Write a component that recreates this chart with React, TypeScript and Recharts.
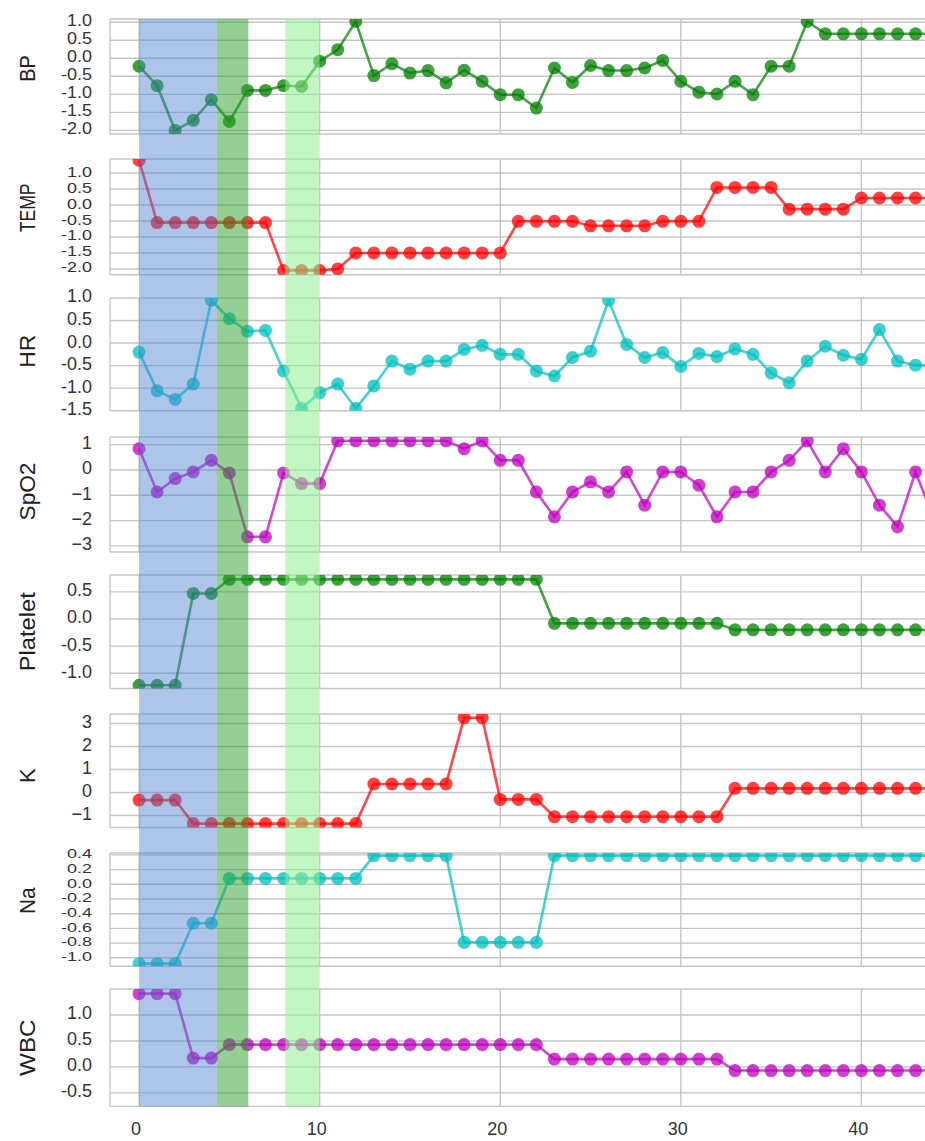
import React from "react";
import { LineChart, Line, XAxis, YAxis, CartesianGrid, ReferenceArea } from "recharts";

// time index (hours)
const T = [0, 1, 2, 3, 4, 5, 6, 7, 8, 9, 10, 11, 12, 13, 14, 15, 16, 17, 18, 19, 20, 21, 22, 23, 24, 25, 26, 27, 28, 29, 30, 31, 32, 33, 34, 35, 36, 37, 38, 39, 40, 41, 42, 43, 44];
const X_TICKS = [0, 10, 20, 30, 40];

// normalised vitals / labs
const BP = [-0.22, -0.76, -2.0, -1.72, -1.15, -1.75, -0.89, -0.89, -0.76, -0.78, -0.08, 0.24, 1.02, -0.48, -0.15, -0.41, -0.34, -0.68, -0.33, -0.64, -1.01, -1.01, -1.38, -0.27, -0.67, -0.2, -0.34, -0.34, -0.27, -0.06, -0.64, -0.94, -0.99, -0.64, -1.01, -0.22, -0.22, 1.02, 0.68, 0.68, 0.68, 0.68, 0.68, 0.68, 0.68];
const TEMP = [1.4, -0.55, -0.55, -0.55, -0.55, -0.55, -0.55, -0.55, -2.05, -2.05, -2.05, -2.0, -1.5, -1.5, -1.5, -1.5, -1.5, -1.5, -1.5, -1.5, -1.5, -0.51, -0.51, -0.51, -0.51, -0.65, -0.65, -0.65, -0.65, -0.51, -0.51, -0.51, 0.55, 0.55, 0.55, 0.55, -0.13, -0.13, -0.13, -0.13, 0.22, 0.22, 0.22, 0.22, 0.22];
const HR = [-0.2, -1.06, -1.25, -0.91, 0.95, 0.54, 0.26, 0.28, -0.62, -1.45, -1.1, -0.91, -1.45, -0.95, -0.4, -0.58, -0.4, -0.4, -0.14, -0.05, -0.25, -0.25, -0.62, -0.73, -0.32, -0.18, 0.95, -0.03, -0.32, -0.21, -0.52, -0.23, -0.3, -0.13, -0.25, -0.66, -0.88, -0.4, -0.07, -0.27, -0.36, 0.3, -0.4, -0.49, -0.5];
const SPO2 = [0.84, -0.87, -0.34, -0.08, 0.38, -0.12, -2.64, -2.64, -0.12, -0.54, -0.54, 1.15, 1.15, 1.15, 1.15, 1.15, 1.15, 1.15, 0.84, 1.15, 0.38, 0.38, -0.87, -1.85, -0.87, -0.47, -0.87, -0.08, -1.39, -0.08, -0.08, -0.6, -1.85, -0.87, -0.87, -0.08, 0.38, 1.15, -0.08, 0.84, -0.08, -1.39, -2.24, -0.08, -1.9];
const PLATELET = [-1.22, -1.22, -1.22, 0.47, 0.47, 0.73, 0.73, 0.73, 0.73, 0.73, 0.73, 0.73, 0.73, 0.73, 0.73, 0.73, 0.73, 0.73, 0.73, 0.73, 0.73, 0.73, 0.73, -0.08, -0.08, -0.08, -0.08, -0.08, -0.08, -0.08, -0.08, -0.08, -0.08, -0.2, -0.2, -0.2, -0.2, -0.2, -0.2, -0.2, -0.2, -0.2, -0.2, -0.2, -0.2];
const K = [-0.33, -0.33, -0.33, -1.35, -1.35, -1.35, -1.35, -1.35, -1.35, -1.35, -1.35, -1.35, -1.35, 0.37, 0.37, 0.37, 0.37, 0.37, 3.25, 3.25, -0.3, -0.3, -0.3, -1.05, -1.05, -1.05, -1.05, -1.05, -1.05, -1.05, -1.05, -1.05, -1.05, 0.18, 0.18, 0.18, 0.18, 0.18, 0.18, 0.18, 0.18, 0.18, 0.18, 0.18, 0.18];
const NA = [-1.08, -1.08, -1.08, -0.53, -0.53, 0.08, 0.08, 0.08, 0.08, 0.08, 0.08, 0.08, 0.08, 0.39, 0.39, 0.39, 0.39, 0.39, -0.79, -0.79, -0.79, -0.79, -0.79, 0.39, 0.39, 0.39, 0.39, 0.39, 0.39, 0.39, 0.39, 0.39, 0.39, 0.39, 0.39, 0.39, 0.39, 0.39, 0.39, 0.39, 0.39, 0.39, 0.39, 0.39, 0.39];
const WBC = [1.41, 1.41, 1.41, 0.17, 0.17, 0.43, 0.43, 0.43, 0.43, 0.43, 0.43, 0.43, 0.43, 0.43, 0.43, 0.43, 0.43, 0.43, 0.43, 0.43, 0.43, 0.43, 0.43, 0.15, 0.15, 0.15, 0.15, 0.15, 0.15, 0.15, 0.15, 0.15, 0.15, -0.07, -0.07, -0.07, -0.07, -0.07, -0.07, -0.07, -0.07, -0.07, -0.07, -0.07, -0.07];

// highlighted intervals
const SPANS = [
  { from: 0, to: 4.3, color: "#4c7fd0", opacity: 0.45 },
  { from: 4.3, to: 6.05, color: "#2ca02c", opacity: 0.5 },
  { from: 8.1, to: 10.0, color: "#90ee90", opacity: 0.55 },
];

const FONT = "'Liberation Sans', Arial, Helvetica, sans-serif";
const W = 960;
const LEFT = 110;
const X_DOMAIN = [-1.61, 45.46];
const GRID = "#c6c6c6";
const FRAME = "#b0b0b0";
const GREEN = "#008000";
const RED = "#ff0000";
const CYAN = "#00bfbf";
const MAGENTA = "#bf00bf";

const dec = (v: number) => (Math.abs(v) < 1e-9 ? "0.0" : v.toFixed(1));
const int = (v: number) => (v < 0 ? "\u2212" + Math.abs(v) : String(v));

const HALF = [-2, -1.5, -1, -0.5, 0, 0.5, 1];

const PANELS = [
  { name: "BP", values: BP, color: GREEN, domain: [-2.1, 1.09], ticks: HALF, fmt: dec, top: 19.3, h: 115, tickSy: 0.9, labSx: 0.9, labDy: -8 },
  { name: "TEMP", values: TEMP, color: RED, domain: [-2.18, 1.44], ticks: HALF, fmt: dec, top: 159.3, h: 115.7, tickSy: 0.78, labSx: 0.8, labDy: -9 },
  { name: "HR", values: HR, color: CYAN, domain: [-1.5, 1.0], ticks: [-1.5, -1, -0.5, 0, 0.5, 1], fmt: dec, top: 298.3, h: 112.7, tickSy: 1, labSx: 1.04, labDy: -3 },
  { name: "SpO2", values: SPO2, color: MAGENTA, domain: [-3.24, 1.3], ticks: [-3, -2, -1, 0, 1], fmt: int, top: 436.7, h: 115, tickSy: 1, labSx: 1.03, labDy: -3 },
  { name: "Platelet", values: PLATELET, color: GREEN, domain: [-1.28, 0.81], ticks: [-1, -0.5, 0, 0.5], fmt: dec, top: 575, h: 113.5, tickSy: 1, labSx: 1.08, labDy: 0 },
  { name: "K", values: K, color: RED, domain: [-1.52, 3.41], ticks: [-1, 0, 1, 2, 3], fmt: int, top: 714, h: 113.5, tickSy: 1, labSx: 1, labDy: 5 },
  { name: "Na", values: NA, color: CYAN, domain: [-1.116, 0.426], ticks: [-1, -0.8, -0.6, -0.4, -0.2, 0, 0.2, 0.4], fmt: dec, top: 852.7, h: 113.3, tickSy: 0.72, labSx: 0.95, labDy: -9 },
  { name: "WBC", values: WBC, color: MAGENTA, domain: [-0.76, 1.5], ticks: [-0.5, 0, 0.5, 1], fmt: dec, top: 989.3, h: 117.4, tickSy: 1, labSx: 1.1, labDy: 0 },
];

type Panel = (typeof PANELS)[number];

function YTick(props: any) {
  const { x, y, payload, fmt, sy } = props;
  return (
    <text
      x={x}
      y={y}
      dy={4.5}
      textAnchor="end"
      fontSize={18}
      fill="#333"
      fontFamily={FONT}
      transform={`translate(0 ${y}) scale(1 ${sy}) translate(0 ${-y})`}
    >
      {fmt(payload.value)}
    </text>
  );
}

function XTick(props: any) {
  const { x, y, payload } = props;
  return (
    <text x={x - 3} y={y} dy="0.71em" textAnchor="middle" fontSize={18} fill="#333" fontFamily={FONT}>
      {payload.value}
    </text>
  );
}

const NoTick = () => <g />;

function YLabel({ text, cy, sx }: { text: string; cy: number; sx: number }) {
  return (
    <text
      x={0}
      y={0}
      transform={`translate(35 ${cy}) rotate(-90) scale(${sx} 1)`}
      textAnchor="middle"
      fontSize={22}
      fill="#222"
      fontFamily={FONT}
    >
      {text}
    </text>
  );
}

function PanelChart({ cfg, last }: { cfg: Panel; last: boolean }) {
  const data = T.map((t, i) => ({ t, v: cfg.values[i] }));
  const mTop = 12;
  const mBottom = last ? 0 : 12;
  const xH = last ? 34 : 0;
  return (
    <div style={{ position: "absolute", left: 0, top: cfg.top - mTop }}>
      <LineChart
        width={W}
        height={cfg.h + mTop + mBottom + xH}
        data={data}
        margin={{ top: mTop, right: 0, bottom: mBottom, left: 0 }}
      >
        <CartesianGrid stroke={GRID} strokeWidth={1.4} />
        <XAxis
          dataKey="t"
          type="number"
          domain={X_DOMAIN}
          ticks={X_TICKS}
          allowDataOverflow
          height={xH}
          axisLine={false}
          tickLine={false}
          tickSize={0}
          tickMargin={16}
          interval={0}
          tick={last ? (p: any) => <XTick {...p} /> : NoTick}
        />
        <YAxis
          type="number"
          domain={cfg.domain}
          ticks={cfg.ticks}
          allowDataOverflow
          width={LEFT}
          axisLine={false}
          tickLine={false}
          tickSize={0}
          tickMargin={18}
          interval={0}
          tick={(p: any) => <YTick {...p} fmt={cfg.fmt} sy={cfg.tickSy} />}
          label={<YLabel text={cfg.name} cy={mTop + cfg.h / 2 + cfg.labDy} sx={cfg.labSx} />}
        />
        <ReferenceArea fill="none" stroke={FRAME} strokeWidth={1.6} />
        <Line
          dataKey="v"
          type="linear"
          stroke={cfg.color}
          strokeOpacity={0.72}
          strokeWidth={2.6}
          dot={{ r: 6.5, fill: cfg.color, fillOpacity: 0.75, stroke: "none" }}
          activeDot={false}
          isAnimationActive={false}
        />
      </LineChart>
    </div>
  );
}

export default function App() {
  const top = PANELS[0].top;
  const bottom = PANELS[PANELS.length - 1].top + PANELS[PANELS.length - 1].h;
  return (
    <div
      style={{
        position: "absolute",
        left: 0,
        top: 0,
        width: 925,
        height: 1141,
        overflow: "hidden",
        background: "#fff",
      }}
    >
      {PANELS.map((cfg, i) => (
        <PanelChart key={cfg.name} cfg={cfg} last={i === PANELS.length - 1} />
      ))}
      {/* shaded intervals spanning all panels */}
      <div style={{ position: "absolute", left: 0, top, pointerEvents: "none" }}>
        <LineChart width={W} height={bottom - top} data={[]} margin={{ top: 0, right: 0, bottom: 0, left: LEFT }}>
          <XAxis type="number" dataKey="t" domain={X_DOMAIN} allowDataOverflow hide />
          <YAxis type="number" domain={[0, 1]} allowDataOverflow hide />
          {SPANS.map((s) => (
            <ReferenceArea key={s.from} x1={s.from} x2={s.to} fill={s.color} fillOpacity={s.opacity} stroke="none" />
          ))}
        </LineChart>
      </div>
    </div>
  );
}
